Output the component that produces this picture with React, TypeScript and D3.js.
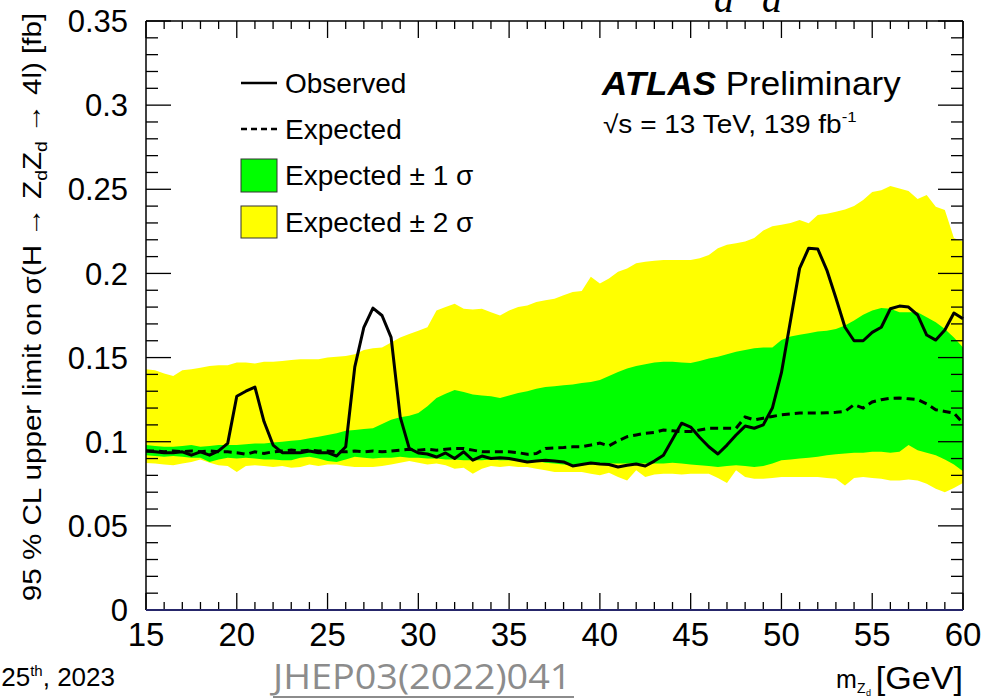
import React from "react";
import * as d3 from "d3";

const masses = [
  15, 15.5, 16, 16.5, 17, 17.5, 18, 18.5, 19, 19.5,
  20, 20.5, 21, 21.5, 22, 22.5, 23, 23.5, 24, 24.5,
  25, 25.5, 26, 26.5, 27, 27.5, 28, 28.5, 29, 29.5,
  30, 30.5, 31, 31.5, 32, 32.5, 33, 33.5, 34, 34.5,
  35, 35.5, 36, 36.5, 37, 37.5, 38, 38.5, 39, 39.5,
  40, 40.5, 41, 41.5, 42, 42.5, 43, 43.5, 44, 44.5,
  45, 45.5, 46, 46.5, 47, 47.5, 48, 48.5, 49, 49.5,
  50, 50.5, 51, 51.5, 52, 52.5, 53, 53.5, 54, 54.5,
  55, 55.5, 56, 56.5, 57, 57.5, 58, 58.5, 59, 59.5,
  60,
];

const observed = [
  0.0945, 0.094, 0.0935, 0.0935, 0.094, 0.092, 0.094, 0.092, 0.0945, 0.099,
  0.127, 0.130, 0.1325, 0.112, 0.098, 0.0935, 0.0935, 0.0935, 0.0945, 0.0935,
  0.0935, 0.0915, 0.097, 0.1445, 0.168, 0.1794, 0.175, 0.162, 0.1148, 0.096,
  0.0933, 0.0927, 0.0909, 0.0933, 0.090, 0.094, 0.089, 0.0915, 0.090, 0.0905,
  0.090, 0.089, 0.088, 0.0885, 0.089, 0.0885, 0.088, 0.0856, 0.0865, 0.0873,
  0.0868, 0.0865, 0.085, 0.086, 0.0868, 0.0856, 0.0885, 0.092, 0.1015, 0.111,
  0.1087, 0.1025, 0.097, 0.0927, 0.098, 0.104, 0.1093, 0.108, 0.110, 0.12,
  0.141, 0.172, 0.203, 0.215, 0.2145, 0.202, 0.1854, 0.168, 0.160, 0.160,
  0.165, 0.168, 0.179, 0.1806, 0.180, 0.1753, 0.1634, 0.1604, 0.1664, 0.1765,
  0.173,
];

const expected = [
  0.0945, 0.0945, 0.094, 0.0945, 0.094, 0.0945, 0.094, 0.0945, 0.094, 0.094,
  0.0935, 0.0925, 0.094, 0.093, 0.094, 0.0945, 0.095, 0.0945, 0.095, 0.0945,
  0.0945, 0.094, 0.094, 0.0945, 0.094, 0.0945, 0.094, 0.0945, 0.095, 0.0955,
  0.095, 0.0955, 0.095, 0.0955, 0.096, 0.096, 0.095, 0.094, 0.094, 0.094,
  0.094, 0.0935, 0.0925, 0.093, 0.096, 0.0963, 0.0965, 0.097, 0.097, 0.098,
  0.0992, 0.0975, 0.1005, 0.103, 0.104, 0.105, 0.1055, 0.107, 0.1065, 0.106,
  0.106, 0.107, 0.108, 0.108, 0.108, 0.108, 0.1147, 0.113, 0.114, 0.115,
  0.116, 0.1165, 0.117, 0.117, 0.117, 0.1172, 0.1175, 0.118, 0.122, 0.12,
  0.1236, 0.125, 0.1258, 0.126, 0.1255, 0.125, 0.1225, 0.119, 0.118, 0.117,
  0.111,
];

const plus2 = [
  0.143, 0.1425, 0.1405, 0.139, 0.1425, 0.143, 0.144, 0.145, 0.1455, 0.1455,
  0.147, 0.147, 0.1465, 0.1475, 0.1475, 0.148, 0.1485, 0.149, 0.149, 0.149,
  0.15, 0.1505, 0.151, 0.152, 0.1545, 0.1555, 0.156, 0.159, 0.162, 0.164,
  0.166, 0.168, 0.178, 0.18, 0.182, 0.179, 0.1785, 0.179, 0.177, 0.175,
  0.178, 0.18, 0.181, 0.183, 0.184, 0.185, 0.187, 0.189, 0.1896, 0.198,
  0.194, 0.197, 0.201, 0.203, 0.206, 0.207, 0.2075, 0.208, 0.208, 0.208,
  0.208, 0.209, 0.211, 0.215, 0.217, 0.218, 0.219, 0.221, 0.2255, 0.228,
  0.229, 0.230, 0.2317, 0.2298, 0.2347, 0.2355, 0.2366, 0.238, 0.24, 0.2437,
  0.2484, 0.2495, 0.252, 0.2505, 0.249, 0.2443, 0.2466, 0.2396, 0.2377, 0.221,
  0.219,
];

const plus1 = [
  0.098, 0.0975, 0.097, 0.097, 0.0975, 0.098, 0.097, 0.0975, 0.098, 0.098,
  0.098, 0.0985, 0.099, 0.099, 0.0995, 0.1, 0.1005, 0.101, 0.102, 0.103,
  0.104, 0.105, 0.1065, 0.107, 0.1075, 0.108, 0.1105, 0.113, 0.1145, 0.1155,
  0.117, 0.121, 0.126, 0.1285, 0.1307, 0.1295, 0.128, 0.1275, 0.127, 0.126,
  0.1275, 0.129, 0.130, 0.1315, 0.1325, 0.133, 0.1335, 0.134, 0.1349, 0.1355,
  0.1367, 0.139, 0.1415, 0.1435, 0.145, 0.146, 0.147, 0.1475, 0.1475, 0.147,
  0.1468, 0.148, 0.1495, 0.1505, 0.152, 0.1535, 0.1545, 0.1555, 0.156, 0.156,
  0.1605, 0.1625, 0.1635, 0.1645, 0.1655, 0.166, 0.167, 0.169, 0.172, 0.1755,
  0.178, 0.1795, 0.179, 0.177, 0.177, 0.177, 0.174, 0.171, 0.167, 0.162,
  0.156,
];

const minus1 = [
  0.092, 0.0915, 0.091, 0.0915, 0.091, 0.0905, 0.0905, 0.088, 0.0895, 0.0905,
  0.09, 0.0905, 0.09, 0.0895, 0.0895, 0.089, 0.089, 0.0905, 0.091, 0.09,
  0.0885, 0.088, 0.0895, 0.091, 0.0905, 0.09, 0.0905, 0.0905, 0.091, 0.0905,
  0.0905, 0.09, 0.09, 0.0895, 0.0895, 0.089, 0.089, 0.089, 0.0895, 0.089,
  0.089, 0.089, 0.0885, 0.0885, 0.0875, 0.087, 0.0865, 0.086, 0.086, 0.0865,
  0.087, 0.087, 0.087, 0.087, 0.087, 0.087, 0.087, 0.087, 0.0875, 0.087,
  0.0865, 0.086, 0.0855, 0.085, 0.0855, 0.086, 0.0855, 0.085, 0.0855, 0.087,
  0.089, 0.0895, 0.09, 0.0905, 0.091, 0.092, 0.0925, 0.093, 0.0935, 0.0935,
  0.094, 0.094, 0.0935, 0.094, 0.098, 0.095, 0.0935, 0.092, 0.0895, 0.0865,
  0.0825,
];

const minus2 = [
  0.0873, 0.087, 0.0865, 0.086, 0.087, 0.088, 0.0895, 0.0875, 0.086, 0.0855,
  0.082, 0.0855, 0.086, 0.0855, 0.085, 0.0855, 0.0845, 0.085, 0.0865, 0.0855,
  0.0865, 0.0865, 0.0855, 0.085, 0.085, 0.085, 0.0855, 0.0865, 0.0875, 0.0885,
  0.0875, 0.0865, 0.087, 0.086, 0.084, 0.0845, 0.081, 0.084, 0.0855, 0.085,
  0.0855, 0.085, 0.085, 0.084, 0.083, 0.082, 0.082, 0.082, 0.082, 0.081,
  0.08, 0.0815, 0.079, 0.077, 0.083, 0.079, 0.0805, 0.081, 0.081, 0.0805,
  0.081, 0.081, 0.081, 0.0785, 0.0755, 0.083, 0.079, 0.078, 0.078, 0.0785,
  0.079, 0.079, 0.079, 0.079, 0.079, 0.0785, 0.078, 0.074, 0.0785, 0.079,
  0.0785, 0.078, 0.077, 0.077, 0.0775, 0.077, 0.075, 0.072, 0.07, 0.0725,
  0.0755,
];

const xMajorTicks = [15, 20, 25, 30, 35, 40, 45, 50, 55, 60];
const yMajorTicks = [0, 0.05, 0.1, 0.15, 0.2, 0.25, 0.3, 0.35];
const yTickLabels = ["0", "0.05", "0.1", "0.15", "0.2", "0.25", "0.3", "0.35"];

const W = 985;
const H = 699;
const L = 146;
const R = 963;
const T = 21;
const B = 610;
const SANS = "'Liberation Sans', Arial, Helvetica, sans-serif";

export default function App() {
  const x = d3.scaleLinear().domain([15, 60]).range([L, R]);
  const y = d3.scaleLinear().domain([0, 0.35]).range([B, T]);
  const idx = masses.map((_, i) => i);

  const area2 = d3
    .area<number>()
    .x((i) => x(masses[i]))
    .y0((i) => y(minus2[i]))
    .y1((i) => y(plus2[i]));
  const area1 = d3
    .area<number>()
    .x((i) => x(masses[i]))
    .y0((i) => y(minus1[i]))
    .y1((i) => y(plus1[i]));
  const lineExp = d3
    .line<number>()
    .x((i) => x(masses[i]))
    .y((i) => y(expected[i]));
  const lineObs = d3
    .line<number>()
    .x((i) => x(masses[i]))
    .y((i) => y(observed[i]));

  const xMinor = d3.range(15, 60.001, 1);
  const yMinor = d3.range(0, 0.35001, 0.01);

  return (
    <svg
      width={W}
      height={H}
      viewBox={`0 0 ${W} ${H}`}
      style={{ position: "absolute", left: 0, top: 0, background: "#fff" }}
    >
      <rect x={0} y={0} width={W} height={H} fill="#fff" />

      {/* clipped slide title remnants */}
      <text x={714} y={12} fontFamily="'Liberation Serif', 'DejaVu Serif', serif" fontStyle="italic" fontSize={40} fill="#000">d</text>
      <text x={762} y={12} fontFamily="'Liberation Serif', 'DejaVu Serif', serif" fontStyle="italic" fontSize={40} fill="#000">d</text>

      {/* bands */}
      <path d={area2(idx) || ""} fill="#ffff00" stroke="none" />
      <path d={area1(idx) || ""} fill="#00ff00" stroke="none" />
      <path d={lineExp(idx) || ""} fill="none" stroke="#000" strokeWidth={3} strokeDasharray="8,5" />
      <path d={lineObs(idx) || ""} fill="none" stroke="#000" strokeWidth={3} strokeLinejoin="round" />

      {/* frame */}
      <line x1={L} y1={T} x2={R} y2={T} stroke="#000" strokeWidth={1.5} />
      <line x1={L} y1={T} x2={L} y2={B} stroke="#000" strokeWidth={1.5} />
      <line x1={R} y1={T} x2={R} y2={B} stroke="#000" strokeWidth={1.5} />

      {/* x ticks */}
      {xMinor.map((v) => {
        const major = xMajorTicks.some((m) => Math.abs(m - v) < 1e-6);
        const len = major ? 17 : 8;
        return (
          <g key={"xt" + v}>
            <line x1={x(v)} x2={x(v)} y1={B} y2={B - len} stroke="#000" strokeWidth={1.3} />
            <line x1={x(v)} x2={x(v)} y1={T} y2={T + len} stroke="#000" strokeWidth={1.3} />
          </g>
        );
      })}
      {/* y ticks */}
      {yMinor.map((v) => {
        const major = yMajorTicks.some((m) => Math.abs(m - v) < 1e-6);
        const len = major ? 25 : 12;
        return (
          <g key={"yt" + v.toFixed(3)}>
            <line x1={L} x2={L + len} y1={y(v)} y2={y(v)} stroke="#000" strokeWidth={1.3} />
            <line x1={R} x2={R - len} y1={y(v)} y2={y(v)} stroke="#000" strokeWidth={1.3} />
          </g>
        );
      })}
      <line x1={L} y1={B} x2={R} y2={B} stroke="#26266a" strokeWidth={2} />

      {/* tick labels */}
      {yMajorTicks.map((v, i) => (
        <text
          key={"yl" + i}
          x={128}
          y={y(v)}
          dy="0.36em"
          textAnchor="end"
          fontFamily={SANS}
          fontSize={31}
          fill="#000"
        >
          {yTickLabels[i]}
        </text>
      ))}
      {xMajorTicks.map((v) => (
        <text
          key={"xl" + v}
          x={x(v)}
          y={646}
          textAnchor="middle"
          fontFamily={SANS}
          fontSize={33}
          fill="#000"
        >
          {v}
        </text>
      ))}

      {/* y axis title */}
      <text
        transform="translate(41,307) rotate(-90) scale(1.14,1)"
        textAnchor="middle"
        fontFamily={SANS}
        fontSize={26}
        fill="#000"
      >
        95 % CL upper limit on σ(H → Z
        <tspan fontSize={17} dy={6}>d</tspan>
        <tspan dy={-6}>Z</tspan>
        <tspan fontSize={17} dy={6}>d</tspan>
        <tspan dy={-6}> → 4l) [fb]</tspan>
      </text>

      {/* x axis title */}
      <text x={836} y={688} fontFamily={SANS} fontSize={25} fill="#000">
        m
      </text>
      <text x={857} y={693} fontFamily={SANS} fontSize={14} fill="#000">
        Z
      </text>
      <text x={866} y={696} fontFamily={SANS} fontSize={9} fill="#000">
        d
      </text>
      <text
        transform="translate(963,689) scale(1.1,1)"
        textAnchor="end"
        fontFamily={SANS}
        fontSize={31}
        fill="#000"
      >
        [GeV]
      </text>

      {/* legend */}
      <line x1={241} x2={277} y1={83} y2={83} stroke="#000" strokeWidth={2.5} />
      <text x={285} y={83} dy="0.36em" fontFamily={SANS} fontSize={28} fill="#000">Observed</text>
      <line x1={241} x2={277} y1={129} y2={129} stroke="#000" strokeWidth={2.5} strokeDasharray="6,4" />
      <text x={285} y={129} dy="0.36em" fontFamily={SANS} fontSize={28} fill="#000">Expected</text>
      <rect x={241} y={159} width={36} height={33} fill="#00ff00" stroke="#333" strokeWidth={1} />
      <text x={285} y={175} dy="0.36em" fontFamily={SANS} fontSize={28} fill="#000">Expected ± 1 σ</text>
      <rect x={241} y={206} width={36} height={32} fill="#ffff00" stroke="#333" strokeWidth={1} />
      <text x={285} y={222} dy="0.36em" fontFamily={SANS} fontSize={28} fill="#000">Expected ± 2 σ</text>

      {/* ATLAS label */}
      <text
        transform="translate(602,95) scale(1.06,1)"
        fontFamily={SANS}
        fontSize={33}
        fill="#000"
      >
        <tspan fontWeight="bold" fontStyle="italic">ATLAS</tspan>
        <tspan> Preliminary</tspan>
      </text>
      <text
        transform="translate(603,133) scale(1.12,1)"
        fontFamily={SANS}
        fontSize={25}
        fill="#000"
      >
        √s = 13 TeV, 139 fb
        <tspan fontSize={15} dy={-11}>-1</tspan>
      </text>

      {/* footer */}
      <text x={115} y={686} textAnchor="end" fontFamily={SANS} fontSize={26} fill="#000">
        25<tspan fontSize={15} dy={-10}>th</tspan>
        <tspan dy={10}>, 2023</tspan>
      </text>
      <text
        transform="translate(273,689) scale(1.08,1)"
        fontFamily="'Open Sans', 'Noto Sans', sans-serif"
        fontSize={35}
        fill="#8c8c8c"
      >
        JHEP03(2022)041
      </text>
      <line x1={273} x2={574} y1={697} y2={697} stroke="#8c8c8c" strokeWidth={2} />
    </svg>
  );
}
